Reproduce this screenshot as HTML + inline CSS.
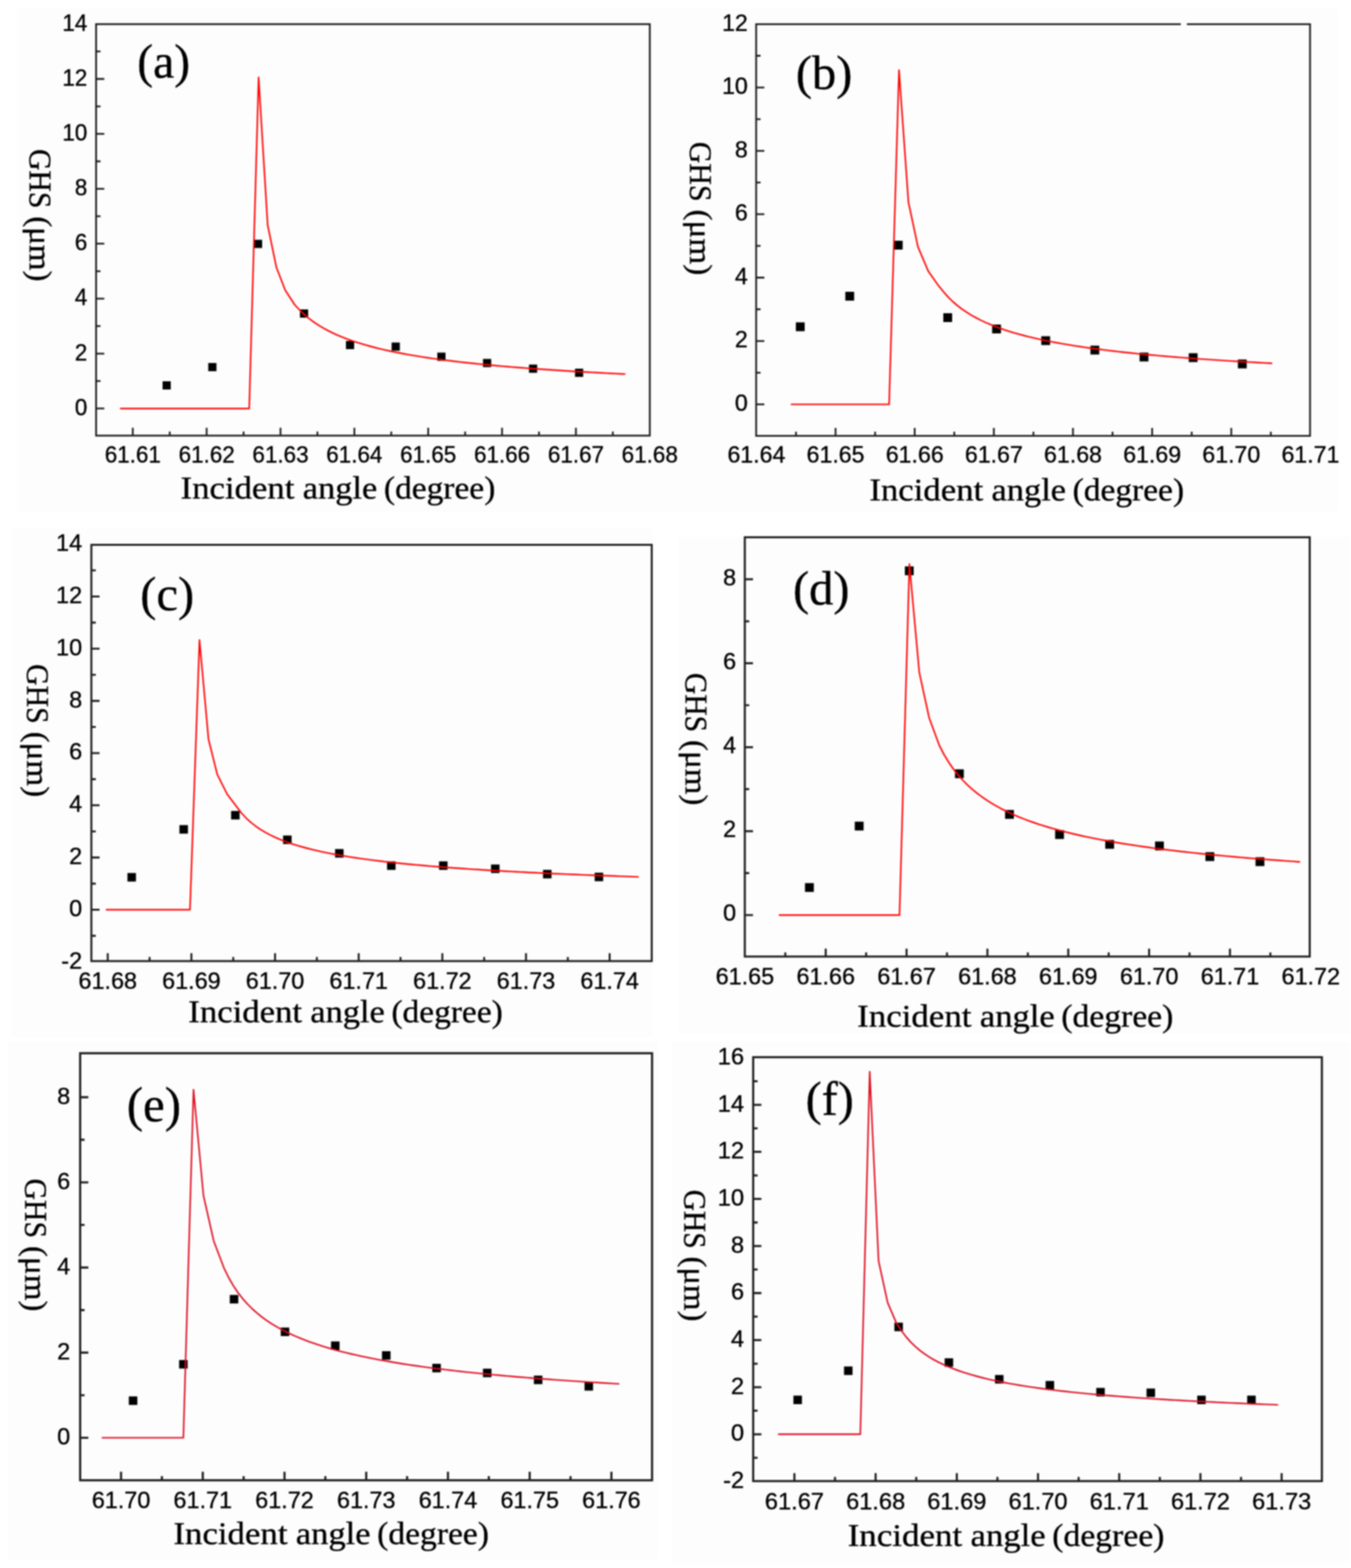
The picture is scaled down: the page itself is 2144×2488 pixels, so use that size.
<!DOCTYPE html>
<html><head><meta charset="utf-8"><title>GHS vs incident angle</title>
<style>
html,body{margin:0;padding:0;background:#ffffff;}
svg{display:block;filter:blur(1px);}
.t{font-family:"Liberation Sans",Arial,sans-serif;font-size:37.5px;fill:#000;stroke:#000;stroke-width:0.5px;}
.s{font-family:"Liberation Serif","Times New Roman",serif;fill:#000;stroke:#000;stroke-width:0.5px;}
</style></head><body>
<svg width="2144" height="2488" viewBox="0 0 2144 2488">
<rect width="2144" height="2488" fill="#ffffff"/>
<rect x="27" y="13" width="1050" height="798" fill="#fdfdfd"/><rect x="1077" y="13" width="1047" height="798" fill="#fdfdfd"/><rect x="18" y="838" width="1018" height="808" fill="#fdfdfd"/><rect x="1077" y="852" width="1067" height="788" fill="#fdfdfd"/><rect x="13" y="1652" width="1032" height="823" fill="#fdfdfd"/><rect x="1067" y="1653" width="1077" height="827" fill="#fdfdfd"/>
<g id="pa"><rect x="152.5" y="38.3" width="878.7" height="652.9" fill="none" stroke="#1c1c1c" stroke-width="2.8"/>
<path d="M152.5 648.2h13M152.5 561.04h13M152.5 473.88h13M152.5 386.72h13M152.5 299.56h13M152.5 212.4h13M152.5 125.24h13M152.5 604.62h7M152.5 517.46h7M152.5 430.3h7M152.5 343.14h7M152.5 255.98h7M152.5 168.82h7M152.5 81.66h7M210.75 691.2v-12.5M327.95 691.2v-12.5M445.15 691.2v-12.5M562.35 691.2v-12.5M679.55 691.2v-12.5M796.75 691.2v-12.5M913.95 691.2v-12.5M269.35 691.2v-6.5M386.55 691.2v-6.5M503.75 691.2v-6.5M620.95 691.2v-6.5M738.15 691.2v-6.5M855.35 691.2v-6.5M972.55 691.2v-6.5" stroke="#1e1e1e" stroke-width="2.8" fill="none"/>
<text class="t" transform="translate(210.75 734) scale(0.95 1)" text-anchor="middle" font-size="37.2">61.61</text>
<text class="t" transform="translate(327.95 734) scale(0.95 1)" text-anchor="middle" font-size="37.2">61.62</text>
<text class="t" transform="translate(445.15 734) scale(0.95 1)" text-anchor="middle" font-size="37.2">61.63</text>
<text class="t" transform="translate(562.35 734) scale(0.95 1)" text-anchor="middle" font-size="37.2">61.64</text>
<text class="t" transform="translate(679.55 734) scale(0.95 1)" text-anchor="middle" font-size="37.2">61.65</text>
<text class="t" transform="translate(796.75 734) scale(0.95 1)" text-anchor="middle" font-size="37.2">61.66</text>
<text class="t" transform="translate(913.95 734) scale(0.95 1)" text-anchor="middle" font-size="37.2">61.67</text>
<text class="t" transform="translate(1031.15 734) scale(0.95 1)" text-anchor="middle" font-size="37.2">61.68</text>
<text class="t" transform="translate(138.5 658.7) scale(0.95 1)" text-anchor="end" font-size="37.2">0</text>
<text class="t" transform="translate(138.5 571.54) scale(0.95 1)" text-anchor="end" font-size="37.2">2</text>
<text class="t" transform="translate(138.5 484.38) scale(0.95 1)" text-anchor="end" font-size="37.2">4</text>
<text class="t" transform="translate(138.5 397.22) scale(0.95 1)" text-anchor="end" font-size="37.2">6</text>
<text class="t" transform="translate(138.5 310.06) scale(0.95 1)" text-anchor="end" font-size="37.2">8</text>
<text class="t" transform="translate(138.5 222.9) scale(0.95 1)" text-anchor="end" font-size="37.2">10</text>
<text class="t" transform="translate(138.5 135.74) scale(0.95 1)" text-anchor="end" font-size="37.2">12</text>
<text class="t" transform="translate(138.5 48.58) scale(0.95 1)" text-anchor="end" font-size="37.2">14</text>
<path d="M258 605h13v13h-13zM330.5 576h13v13h-13zM403 380.5h13v13h-13zM476 491h13v13h-13zM549 541h13v13h-13zM621.5 543.5h13v13h-13zM694 559.5h13v13h-13zM766.5 569.5h13v13h-13zM839.5 578.5h13v13h-13zM912.5 585h13v13h-13z" fill="#000"/>
<polyline points="190.5,648.2 395.5,648.2 410.4,122.7 424.8,357.2 438.7,424.4 452.6,460.4 467.6,483.5 475.1,491.51 482.6,498.77 490.1,505.13 497.6,510.76 505.1,515.78 512.6,520.3 520.1,524.4 527.6,528.14 535.1,531.57 542.6,534.72 550.1,537.64 557.6,540.35 565.1,542.87 572.6,545.23 580.1,547.44 587.6,549.52 595.1,551.48 602.6,553.32 610.1,555.07 617.6,556.73 625.1,558.3 632.6,559.8 640.1,561.23 647.6,562.59 655.1,563.89 662.6,565.13 670.1,566.32 677.6,567.47 685.1,568.57 692.6,569.62 700.1,570.64 707.6,571.62 715.1,572.56 722.6,573.47 730.1,574.35 737.6,575.2 745.1,576.02 752.6,576.81 760.1,577.58 767.6,578.33 775.1,579.05 782.6,579.75 790.1,580.44 797.6,581.1 805.1,581.74 812.6,582.37 820.1,582.98 827.6,583.57 835.1,584.15 842.6,584.71 850.1,585.26 857.6,585.79 865.1,586.31 872.6,586.82 880.1,587.32 887.6,587.8 895.1,588.28 902.6,588.74 910.1,589.19 917.6,589.64 925.1,590.07 932.6,590.5 940.1,590.91 947.6,591.32 955.1,591.72 962.6,592.11 970.1,592.49 977.6,592.86 985.1,593.23 992.5,593.59" fill="none" stroke="#ff0000" stroke-width="2.4" stroke-linejoin="round"/>
<text class="s" x="217.78" y="123.14" font-size="75.5">(a)</text>
<text class="s" transform="translate(286.55 790.9) scale(1.1033 1)" font-size="50">Incident</text>
<text class="s" transform="translate(480.52 790.9) scale(1.0922 1)" font-size="50">angle</text>
<text class="s" transform="translate(609.19 790.9) scale(1.0627 1)" font-size="50">(degree)</text>
<text class="s" transform="translate(47 236.62) rotate(90) scale(0.9394 1)" font-size="50">GHS</text>
<text class="s" transform="translate(47 343.17) rotate(90) scale(1.0457 1)" font-size="50">(μm)</text></g>
<g id="pb"><path d="M1200 38.3H1872.5M1885 38.3H2079V691.6H1200V38.3" fill="none" stroke="#1c1c1c" stroke-width="2.8" stroke-linejoin="miter" stroke-linecap="square"/>
<path d="M1200 641.6h13M1200 541.04h13M1200 440.48h13M1200 339.92h13M1200 239.36h13M1200 138.8h13M1200 591.32h7M1200 490.76h7M1200 390.2h7M1200 289.64h7M1200 189.08h7M1200 88.52h7M1326 691.6v-12.5M1451.6 691.6v-12.5M1577.2 691.6v-12.5M1702.8 691.6v-12.5M1828.4 691.6v-12.5M1954 691.6v-12.5M1263.2 691.6v-6.5M1388.8 691.6v-6.5M1514.4 691.6v-6.5M1640 691.6v-6.5M1765.6 691.6v-6.5M1891.2 691.6v-6.5M2016.8 691.6v-6.5" stroke="#1e1e1e" stroke-width="2.8" fill="none"/>
<text class="t" transform="translate(1200.4 733.7) scale(0.98 1)" text-anchor="middle" font-size="37">61.64</text>
<text class="t" transform="translate(1326 733.7) scale(0.98 1)" text-anchor="middle" font-size="37">61.65</text>
<text class="t" transform="translate(1451.6 733.7) scale(0.98 1)" text-anchor="middle" font-size="37">61.66</text>
<text class="t" transform="translate(1577.2 733.7) scale(0.98 1)" text-anchor="middle" font-size="37">61.67</text>
<text class="t" transform="translate(1702.8 733.7) scale(0.98 1)" text-anchor="middle" font-size="37">61.68</text>
<text class="t" transform="translate(1828.4 733.7) scale(0.98 1)" text-anchor="middle" font-size="37">61.69</text>
<text class="t" transform="translate(1954 733.7) scale(0.98 1)" text-anchor="middle" font-size="37">61.70</text>
<text class="t" transform="translate(2079.6 733.7) scale(0.98 1)" text-anchor="middle" font-size="37">61.71</text>
<text class="t" transform="translate(1186.8 652.03) scale(0.98 1)" text-anchor="end" font-size="37">0</text>
<text class="t" transform="translate(1186.8 551.47) scale(0.98 1)" text-anchor="end" font-size="37">2</text>
<text class="t" transform="translate(1186.8 450.91) scale(0.98 1)" text-anchor="end" font-size="37">4</text>
<text class="t" transform="translate(1186.8 350.35) scale(0.98 1)" text-anchor="end" font-size="37">6</text>
<text class="t" transform="translate(1186.8 249.79) scale(0.98 1)" text-anchor="end" font-size="37">8</text>
<text class="t" transform="translate(1186.8 149.23) scale(0.98 1)" text-anchor="end" font-size="37">10</text>
<text class="t" transform="translate(1186.8 48.67) scale(0.98 1)" text-anchor="end" font-size="37">12</text>
<path d="M1263 511.5h14v14h-14zM1341.5 463h14v14h-14zM1418.5 382h14v14h-14zM1497 497h14v14h-14zM1574.5 515h14v14h-14zM1652.5 533.5h14v14h-14zM1730.5 548.5h14v14h-14zM1808.5 559.5h14v14h-14zM1886.5 560.5h14v14h-14zM1964.5 570.5h14v14h-14z" fill="#000"/>
<polyline points="1255,641.6 1411,641.6 1426.7,111.3 1441.7,321 1456.8,391.7 1473,430 1489.2,453.1 1496.7,462.33 1504.2,470.88 1511.7,478.26 1519.2,484.74 1526.7,490.47 1534.2,495.59 1541.7,500.21 1549.2,504.4 1556.7,508.22 1564.2,511.73 1571.7,514.96 1579.2,517.96 1586.7,520.75 1594.2,523.34 1601.7,525.77 1609.2,528.06 1616.7,530.2 1624.2,532.23 1631.7,534.14 1639.2,535.95 1646.7,537.67 1654.2,539.31 1661.7,540.87 1669.2,542.35 1676.7,543.77 1684.2,545.13 1691.7,546.43 1699.2,547.68 1706.7,548.87 1714.2,550.02 1721.7,551.13 1729.2,552.2 1736.7,553.23 1744.2,554.22 1751.7,555.18 1759.2,556.1 1766.7,557 1774.2,557.86 1781.7,558.7 1789.2,559.52 1796.7,560.31 1804.2,561.07 1811.7,561.82 1819.2,562.54 1826.7,563.24 1834.2,563.93 1841.7,564.59 1849.2,565.24 1856.7,565.87 1864.2,566.49 1871.7,567.09 1879.2,567.67 1886.7,568.24 1894.2,568.8 1901.7,569.34 1909.2,569.88 1916.7,570.4 1924.2,570.9 1931.7,571.4 1939.2,571.89 1946.7,572.36 1954.2,572.83 1961.7,573.28 1969.2,573.73 1976.7,574.17 1984.2,574.6 1991.7,575.02 1999.2,575.43 2006.7,575.84 2014.2,576.23 2019,576.48" fill="none" stroke="#ff0000" stroke-width="2.4" stroke-linejoin="round"/>
<text class="s" x="1262.92" y="141.23" font-size="77.0">(b)</text>
<text class="s" transform="translate(1379.65 794) scale(1.1031 1)" font-size="50">Incident</text>
<text class="s" transform="translate(1573.58 794) scale(1.0920 1)" font-size="50">angle</text>
<text class="s" transform="translate(1702.22 794) scale(1.0625 1)" font-size="50">(degree)</text>
<text class="s" transform="translate(1095 225.11) rotate(90) scale(0.9467 1)" font-size="50">GHS</text>
<text class="s" transform="translate(1095 332.48) rotate(90) scale(1.0538 1)" font-size="50">(μm)</text></g>
<g id="pc"><rect x="145" y="864.5" width="889.3" height="660.5" fill="none" stroke="#1c1c1c" stroke-width="3.1"/>
<path d="M145 1443.5h13M145 1360.66h13M145 1277.82h13M145 1194.98h13M145 1112.14h13M145 1029.3h13M145 946.46h13M145 1484.92h7M145 1402.08h7M145 1319.24h7M145 1236.4h7M145 1153.56h7M145 1070.72h7M145 987.88h7M145 905.04h7M171 1525v-12.5M303.75 1525v-12.5M436.5 1525v-12.5M569.25 1525v-12.5M702 1525v-12.5M834.75 1525v-12.5M967.5 1525v-12.5M237.38 1525v-6.5M370.13 1525v-6.5M502.87 1525v-6.5M635.63 1525v-6.5M768.38 1525v-6.5M901.12 1525v-6.5" stroke="#1e1e1e" stroke-width="3.1" fill="none"/>
<text class="t" transform="translate(171 1568.7) scale(0.99 1)" text-anchor="middle" font-size="37">61.68</text>
<text class="t" transform="translate(303.75 1568.7) scale(0.99 1)" text-anchor="middle" font-size="37">61.69</text>
<text class="t" transform="translate(436.5 1568.7) scale(0.99 1)" text-anchor="middle" font-size="37">61.70</text>
<text class="t" transform="translate(569.25 1568.7) scale(0.99 1)" text-anchor="middle" font-size="37">61.71</text>
<text class="t" transform="translate(702 1568.7) scale(0.99 1)" text-anchor="middle" font-size="37">61.72</text>
<text class="t" transform="translate(834.75 1568.7) scale(0.99 1)" text-anchor="middle" font-size="37">61.73</text>
<text class="t" transform="translate(967.5 1568.7) scale(0.99 1)" text-anchor="middle" font-size="37">61.74</text>
<text class="t" transform="translate(130.3 1536.77) scale(0.99 1)" text-anchor="end" font-size="37">-2</text>
<text class="t" transform="translate(130.3 1453.93) scale(0.99 1)" text-anchor="end" font-size="37">0</text>
<text class="t" transform="translate(130.3 1371.09) scale(0.99 1)" text-anchor="end" font-size="37">2</text>
<text class="t" transform="translate(130.3 1288.25) scale(0.99 1)" text-anchor="end" font-size="37">4</text>
<text class="t" transform="translate(130.3 1205.41) scale(0.99 1)" text-anchor="end" font-size="37">6</text>
<text class="t" transform="translate(130.3 1122.57) scale(0.99 1)" text-anchor="end" font-size="37">8</text>
<text class="t" transform="translate(130.3 1039.73) scale(0.99 1)" text-anchor="end" font-size="37">10</text>
<text class="t" transform="translate(130.3 956.89) scale(0.99 1)" text-anchor="end" font-size="37">12</text>
<text class="t" transform="translate(130.3 874.05) scale(0.99 1)" text-anchor="end" font-size="37">14</text>
<path d="M202.25 1385.25h13.5v13.5h-13.5zM284.75 1309.25h13.5v13.5h-13.5zM366.75 1286.75h13.5v13.5h-13.5zM449.25 1325.75h13.5v13.5h-13.5zM531.75 1347.25h13.5v13.5h-13.5zM614.25 1366.75h13.5v13.5h-13.5zM696.75 1366.75h13.5v13.5h-13.5zM779.25 1371.75h13.5v13.5h-13.5zM861.75 1380.25h13.5v13.5h-13.5zM943.75 1384.75h13.5v13.5h-13.5z" fill="#000"/>
<polyline points="168,1443.5 301.5,1443.5 316.6,1015.5 330.9,1173.1 344.8,1228.7 360.4,1260 376.1,1280.8 383.6,1290.53 391.1,1298.55 398.6,1305.33 406.1,1311.15 413.6,1316.23 421.1,1320.72 428.6,1324.72 436.1,1328.31 443.6,1331.57 451.1,1334.54 458.6,1337.26 466.1,1339.77 473.6,1342.1 481.1,1344.25 488.6,1346.27 496.1,1348.15 503.6,1349.92 511.1,1351.58 518.6,1353.15 526.1,1354.63 533.6,1356.03 541.1,1357.37 548.6,1358.64 556.1,1359.84 563.6,1361 571.1,1362.1 578.6,1363.15 586.1,1364.16 593.6,1365.13 601.1,1366.06 608.6,1366.96 616.1,1367.82 623.6,1368.65 631.1,1369.45 638.6,1370.22 646.1,1370.97 653.6,1371.69 661.1,1372.39 668.6,1373.06 676.1,1373.72 683.6,1374.36 691.1,1374.97 698.6,1375.57 706.1,1376.15 713.6,1376.72 721.1,1377.27 728.6,1377.8 736.1,1378.32 743.6,1378.83 751.1,1379.33 758.6,1379.81 766.1,1380.28 773.6,1380.74 781.1,1381.19 788.6,1381.63 796.1,1382.05 803.6,1382.47 811.1,1382.88 818.6,1383.28 826.1,1383.67 833.6,1384.05 841.1,1384.43 848.6,1384.8 856.1,1385.15 863.6,1385.51 871.1,1385.85 878.6,1386.19 886.1,1386.52 893.6,1386.85 901.1,1387.17 908.6,1387.48 916.1,1387.79 923.6,1388.09 931.1,1388.39 938.6,1388.68 946.1,1388.97 953.6,1389.25 961.1,1389.53 968.6,1389.8 976.1,1390.07 983.6,1390.33 991.1,1390.59 998.6,1390.85 1006.1,1391.1 1013.5,1391.34" fill="none" stroke="#ff0000" stroke-width="2.4" stroke-linejoin="round"/>
<text class="s" x="222.62" y="967.73" font-size="77.0">(c)</text>
<text class="s" transform="translate(298.85 1622) scale(1.1022 1)" font-size="50">Incident</text>
<text class="s" transform="translate(492.62 1622) scale(1.0911 1)" font-size="50">angle</text>
<text class="s" transform="translate(621.16 1622) scale(1.0616 1)" font-size="50">(degree)</text>
<text class="s" transform="translate(43.2 1053.81) rotate(90) scale(0.9439 1)" font-size="50">GHS</text>
<text class="s" transform="translate(43.2 1160.88) rotate(90) scale(1.0508 1)" font-size="50">(μm)</text></g>
<g id="pd"><rect x="1182" y="852.5" width="896.5" height="665.3" fill="none" stroke="#1c1c1c" stroke-width="3.2"/>
<path d="M1182 1452h13M1182 1318.8h13M1182 1185.6h13M1182 1052.4h13M1182 919.2h13M1182 1385.4h7M1182 1252.2h7M1182 1119h7M1182 985.8h7M1310.4 1517.8v-12.5M1438.7 1517.8v-12.5M1567 1517.8v-12.5M1695.3 1517.8v-12.5M1823.6 1517.8v-12.5M1951.9 1517.8v-12.5M1246.25 1517.8v-6.5M1374.55 1517.8v-6.5M1502.85 1517.8v-6.5M1631.15 1517.8v-6.5M1759.45 1517.8v-6.5M1887.75 1517.8v-6.5M2016.05 1517.8v-6.5" stroke="#1e1e1e" stroke-width="3.2" fill="none"/>
<text class="t" transform="translate(1182.1 1561.5) scale(0.99 1)" text-anchor="middle" font-size="38.5">61.65</text>
<text class="t" transform="translate(1310.4 1561.5) scale(0.99 1)" text-anchor="middle" font-size="38.5">61.66</text>
<text class="t" transform="translate(1438.7 1561.5) scale(0.99 1)" text-anchor="middle" font-size="38.5">61.67</text>
<text class="t" transform="translate(1567 1561.5) scale(0.99 1)" text-anchor="middle" font-size="38.5">61.68</text>
<text class="t" transform="translate(1695.3 1561.5) scale(0.99 1)" text-anchor="middle" font-size="38.5">61.69</text>
<text class="t" transform="translate(1823.6 1561.5) scale(0.99 1)" text-anchor="middle" font-size="38.5">61.70</text>
<text class="t" transform="translate(1951.9 1561.5) scale(0.99 1)" text-anchor="middle" font-size="38.5">61.71</text>
<text class="t" transform="translate(2080.2 1561.5) scale(0.99 1)" text-anchor="middle" font-size="38.5">61.72</text>
<text class="t" transform="translate(1168.2 1461.45) scale(0.99 1)" text-anchor="end" font-size="38.5">0</text>
<text class="t" transform="translate(1168.2 1328.25) scale(0.99 1)" text-anchor="end" font-size="38.5">2</text>
<text class="t" transform="translate(1168.2 1195.05) scale(0.99 1)" text-anchor="end" font-size="38.5">4</text>
<text class="t" transform="translate(1168.2 1061.85) scale(0.99 1)" text-anchor="end" font-size="38.5">6</text>
<text class="t" transform="translate(1168.2 928.65) scale(0.99 1)" text-anchor="end" font-size="38.5">8</text>
<path d="M1277.5 1401.2h14v14h-14zM1356.5 1303.7h14v14h-14zM1436 898.7h14v14h-14zM1515.5 1220.7h14v14h-14zM1595 1285.2h14v14h-14zM1674.5 1317.2h14v14h-14zM1754 1332.7h14v14h-14zM1833 1335.2h14v14h-14zM1913 1352.2h14v14h-14zM1992.5 1360.2h14v14h-14z" fill="#000"/>
<polyline points="1236,1452 1427.5,1452 1443.2,895 1458.9,1067 1474.5,1138.8 1490.7,1182.9 1498.2,1197.35 1505.7,1209.71 1513.2,1220.44 1520.7,1229.88 1528.2,1238.27 1535.7,1245.78 1543.2,1252.56 1550.7,1258.72 1558.2,1264.35 1565.7,1269.52 1573.2,1274.29 1580.7,1278.71 1588.2,1282.82 1595.7,1286.65 1603.2,1290.23 1610.7,1293.6 1618.2,1296.77 1625.7,1299.75 1633.2,1302.57 1640.7,1305.25 1648.2,1307.78 1655.7,1310.19 1663.2,1312.49 1670.7,1314.68 1678.2,1316.77 1685.7,1318.77 1693.2,1320.68 1700.7,1322.51 1708.2,1324.27 1715.7,1325.96 1723.2,1327.59 1730.7,1329.16 1738.2,1330.67 1745.7,1332.12 1753.2,1333.53 1760.7,1334.88 1768.2,1336.2 1775.7,1337.47 1783.2,1338.7 1790.7,1339.89 1798.2,1341.04 1805.7,1342.16 1813.2,1343.25 1820.7,1344.31 1828.2,1345.33 1835.7,1346.33 1843.2,1347.3 1850.7,1348.25 1858.2,1349.17 1865.7,1350.06 1873.2,1350.94 1880.7,1351.79 1888.2,1352.62 1895.7,1353.43 1903.2,1354.22 1910.7,1354.99 1918.2,1355.75 1925.7,1356.49 1933.2,1357.21 1940.7,1357.91 1948.2,1358.6 1955.7,1359.28 1963.2,1359.94 1970.7,1360.59 1978.2,1361.22 1985.7,1361.84 1993.2,1362.45 2000.7,1363.05 2008.2,1363.63 2015.7,1364.21 2023.2,1364.77 2030.7,1365.32 2038.2,1365.87 2045.7,1366.4 2053.2,1366.92 2060.7,1367.44 2063.3,1367.61" fill="none" stroke="#ff0000" stroke-width="2.4" stroke-linejoin="round"/>
<text class="s" x="1258.42" y="959.03" font-size="77.0">(d)</text>
<text class="s" transform="translate(1360.24 1629.4) scale(1.1082 1)" font-size="50">Incident</text>
<text class="s" transform="translate(1555.07 1629.4) scale(1.0970 1)" font-size="50">angle</text>
<text class="s" transform="translate(1684.31 1629.4) scale(1.0674 1)" font-size="50">(degree)</text>
<text class="s" transform="translate(1087.5 1067.72) rotate(90) scale(0.9403 1)" font-size="50">GHS</text>
<text class="s" transform="translate(1087.5 1174.37) rotate(90) scale(1.0467 1)" font-size="50">(μm)</text></g>
<g id="pe"><rect x="127.2" y="1671.2" width="907.6" height="677.6" fill="none" stroke="#1c1c1c" stroke-width="3.4"/>
<path d="M127.2 2281.4h13M127.2 2146.3h13M127.2 2011.2h13M127.2 1876.1h13M127.2 1741h13M127.2 2213.85h7M127.2 2078.75h7M127.2 1943.65h7M127.2 1808.55h7M192.1 2348.8v-13.5M321.8 2348.8v-13.5M451.5 2348.8v-13.5M581.2 2348.8v-13.5M710.9 2348.8v-13.5M840.6 2348.8v-13.5M970.3 2348.8v-13.5M256.95 2348.8v-6.5M386.65 2348.8v-6.5M516.35 2348.8v-6.5M646.05 2348.8v-6.5M775.75 2348.8v-6.5M905.45 2348.8v-6.5" stroke="#1e1e1e" stroke-width="3.4" fill="none"/>
<text class="t" transform="translate(192.1 2392.8) scale(0.99 1)" text-anchor="middle" font-size="38.5">61.70</text>
<text class="t" transform="translate(321.8 2392.8) scale(0.99 1)" text-anchor="middle" font-size="38.5">61.71</text>
<text class="t" transform="translate(451.5 2392.8) scale(0.99 1)" text-anchor="middle" font-size="38.5">61.72</text>
<text class="t" transform="translate(581.2 2392.8) scale(0.99 1)" text-anchor="middle" font-size="38.5">61.73</text>
<text class="t" transform="translate(710.9 2392.8) scale(0.99 1)" text-anchor="middle" font-size="38.5">61.74</text>
<text class="t" transform="translate(840.6 2392.8) scale(0.99 1)" text-anchor="middle" font-size="38.5">61.75</text>
<text class="t" transform="translate(970.3 2392.8) scale(0.99 1)" text-anchor="middle" font-size="38.5">61.76</text>
<text class="t" transform="translate(111.4 2292.35) scale(0.99 1)" text-anchor="end" font-size="38.5">0</text>
<text class="t" transform="translate(111.4 2157.25) scale(0.99 1)" text-anchor="end" font-size="38.5">2</text>
<text class="t" transform="translate(111.4 2022.15) scale(0.99 1)" text-anchor="end" font-size="38.5">4</text>
<text class="t" transform="translate(111.4 1887.05) scale(0.99 1)" text-anchor="end" font-size="38.5">6</text>
<text class="t" transform="translate(111.4 1751.95) scale(0.99 1)" text-anchor="end" font-size="38.5">8</text>
<path d="M204.45 2215.65h13.5v13.5h-13.5zM284.25 2157.95h13.5v13.5h-13.5zM364.65 2054.85h13.5v13.5h-13.5zM445.55 2106.45h13.5v13.5h-13.5zM525.35 2128.55h13.5v13.5h-13.5zM606.25 2144.05h13.5v13.5h-13.5zM686.05 2164.05h13.5v13.5h-13.5zM766.45 2171.85h13.5v13.5h-13.5zM847.25 2182.65h13.5v13.5h-13.5zM927.65 2192.95h13.5v13.5h-13.5z" fill="#000"/>
<polyline points="161.5,2281.4 291,2281.4 307.1,1729 322.9,1897 339.1,1968.8 355.3,2011.7 362.8,2027.05 370.3,2040.1 377.8,2051.21 385.3,2060.83 392.8,2069.26 400.3,2076.73 407.8,2083.42 415.3,2089.45 422.8,2094.93 430.3,2099.93 437.8,2104.52 445.3,2108.76 452.8,2112.69 460.3,2116.35 467.8,2119.76 475.3,2122.95 482.8,2125.95 490.3,2128.77 497.8,2131.44 505.3,2133.96 512.8,2136.35 520.3,2138.61 527.8,2140.77 535.3,2142.83 542.8,2144.79 550.3,2146.67 557.8,2148.46 565.3,2150.18 572.8,2151.83 580.3,2153.42 587.8,2154.94 595.3,2156.41 602.8,2157.82 610.3,2159.19 617.8,2160.5 625.3,2161.78 632.8,2163.01 640.3,2164.2 647.8,2165.35 655.3,2166.46 662.8,2167.55 670.3,2168.6 677.8,2169.62 685.3,2170.61 692.8,2171.57 700.3,2172.51 707.8,2173.42 715.3,2174.3 722.8,2175.17 730.3,2176.01 737.8,2176.83 745.3,2177.63 752.8,2178.41 760.3,2179.18 767.8,2179.92 775.3,2180.65 782.8,2181.36 790.3,2182.05 797.8,2182.73 805.3,2183.4 812.8,2184.05 820.3,2184.69 827.8,2185.31 835.3,2185.92 842.8,2186.52 850.3,2187.11 857.8,2187.68 865.3,2188.25 872.8,2188.8 880.3,2189.34 887.8,2189.87 895.3,2190.4 902.8,2190.91 910.3,2191.41 917.8,2191.91 925.3,2192.4 932.8,2192.87 940.3,2193.34 947.8,2193.81 955.3,2194.26 962.8,2194.71 970.3,2195.15 977.8,2195.58 982.8,2195.86" fill="none" stroke="#e00a1e" stroke-width="2.4" stroke-linejoin="round"/>
<text class="s" x="201.3" y="1778.52" font-size="77.5">(e)</text>
<text class="s" transform="translate(275.14 2450) scale(1.1060 1)" font-size="50">Incident</text>
<text class="s" transform="translate(469.58 2450) scale(1.0948 1)" font-size="50">angle</text>
<text class="s" transform="translate(598.56 2450) scale(1.0653 1)" font-size="50">(degree)</text>
<text class="s" transform="translate(40.1 1870.01) rotate(90) scale(0.9439 1)" font-size="50">GHS</text>
<text class="s" transform="translate(40.1 1977.08) rotate(90) scale(1.0508 1)" font-size="50">(μm)</text></g>
<g id="pf"><rect x="1195.3" y="1677.5" width="902.5" height="672.6" fill="none" stroke="#1c1c1c" stroke-width="3.3"/>
<path d="M1195.3 2275.8h13M1195.3 2201.12h13M1195.3 2126.44h13M1195.3 2051.76h13M1195.3 1977.08h13M1195.3 1902.4h13M1195.3 1827.72h13M1195.3 1753.04h13M1195.3 2313.14h7M1195.3 2238.46h7M1195.3 2163.78h7M1195.3 2089.1h7M1195.3 2014.42h7M1195.3 1939.74h7M1195.3 1865.06h7M1195.3 1790.38h7M1195.3 1715.7h7M1260.7 2350.1v-12.5M1389.57 2350.1v-12.5M1518.44 2350.1v-12.5M1647.31 2350.1v-12.5M1776.18 2350.1v-12.5M1905.05 2350.1v-12.5M2033.92 2350.1v-12.5M1325.13 2350.1v-6.5M1454.01 2350.1v-6.5M1582.87 2350.1v-6.5M1711.74 2350.1v-6.5M1840.62 2350.1v-6.5M1969.48 2350.1v-6.5" stroke="#1e1e1e" stroke-width="3.3" fill="none"/>
<text class="t" transform="translate(1260.7 2394.5) scale(1.0 1)" text-anchor="middle" font-size="37.5">61.67</text>
<text class="t" transform="translate(1389.57 2394.5) scale(1.0 1)" text-anchor="middle" font-size="37.5">61.68</text>
<text class="t" transform="translate(1518.44 2394.5) scale(1.0 1)" text-anchor="middle" font-size="37.5">61.69</text>
<text class="t" transform="translate(1647.31 2394.5) scale(1.0 1)" text-anchor="middle" font-size="37.5">61.70</text>
<text class="t" transform="translate(1776.18 2394.5) scale(1.0 1)" text-anchor="middle" font-size="37.5">61.71</text>
<text class="t" transform="translate(1905.05 2394.5) scale(1.0 1)" text-anchor="middle" font-size="37.5">61.72</text>
<text class="t" transform="translate(2033.92 2394.5) scale(1.0 1)" text-anchor="middle" font-size="37.5">61.73</text>
<text class="t" transform="translate(1180.8 2361.08) scale(1.0 1)" text-anchor="end" font-size="37.5">-2</text>
<text class="t" transform="translate(1180.8 2286.4) scale(1.0 1)" text-anchor="end" font-size="37.5">0</text>
<text class="t" transform="translate(1180.8 2211.72) scale(1.0 1)" text-anchor="end" font-size="37.5">2</text>
<text class="t" transform="translate(1180.8 2137.04) scale(1.0 1)" text-anchor="end" font-size="37.5">4</text>
<text class="t" transform="translate(1180.8 2062.36) scale(1.0 1)" text-anchor="end" font-size="37.5">6</text>
<text class="t" transform="translate(1180.8 1987.68) scale(1.0 1)" text-anchor="end" font-size="37.5">8</text>
<text class="t" transform="translate(1180.8 1913) scale(1.0 1)" text-anchor="end" font-size="37.5">10</text>
<text class="t" transform="translate(1180.8 1838.32) scale(1.0 1)" text-anchor="end" font-size="37.5">12</text>
<text class="t" transform="translate(1180.8 1763.64) scale(1.0 1)" text-anchor="end" font-size="37.5">14</text>
<text class="t" transform="translate(1180.8 1688.96) scale(1.0 1)" text-anchor="end" font-size="37.5">16</text>
<path d="M1259.15 2214.55h13.5v13.5h-13.5zM1339.45 2168.25h13.5v13.5h-13.5zM1419.35 2098.65h13.5v13.5h-13.5zM1499.15 2155.35h13.5v13.5h-13.5zM1579.05 2181.65h13.5v13.5h-13.5zM1659.35 2191.35h13.5v13.5h-13.5zM1739.75 2202.25h13.5v13.5h-13.5zM1819.55 2203.25h13.5v13.5h-13.5zM1899.95 2214.55h13.5v13.5h-13.5zM1979.25 2214.55h13.5v13.5h-13.5z" fill="#000"/>
<polyline points="1234.7,2275.8 1365.3,2275.8 1380.2,1700.4 1394.3,2001 1408.7,2067 1422.6,2099.5 1430.1,2110.74 1437.6,2120.89 1445.1,2129.4 1452.6,2136.68 1460.1,2142.99 1467.6,2148.53 1475.1,2153.45 1482.6,2157.85 1490.1,2161.82 1497.6,2165.42 1505.1,2168.7 1512.6,2171.72 1520.1,2174.5 1527.6,2177.07 1535.1,2179.47 1542.6,2181.7 1550.1,2183.78 1557.6,2185.74 1565.1,2187.58 1572.6,2189.31 1580.1,2190.95 1587.6,2192.5 1595.1,2193.97 1602.6,2195.36 1610.1,2196.69 1617.6,2197.96 1625.1,2199.17 1632.6,2200.33 1640.1,2201.43 1647.6,2202.49 1655.1,2203.51 1662.6,2204.49 1670.1,2205.43 1677.6,2206.33 1685.1,2207.2 1692.6,2208.04 1700.1,2208.85 1707.6,2209.64 1715.1,2210.39 1722.6,2211.13 1730.1,2211.83 1737.6,2212.52 1745.1,2213.19 1752.6,2213.83 1760.1,2214.46 1767.6,2215.06 1775.1,2215.66 1782.6,2216.23 1790.1,2216.79 1797.6,2217.33 1805.1,2217.86 1812.6,2218.38 1820.1,2218.88 1827.6,2219.37 1835.1,2219.85 1842.6,2220.31 1850.1,2220.77 1857.6,2221.21 1865.1,2221.64 1872.6,2222.07 1880.1,2222.48 1887.6,2222.89 1895.1,2223.28 1902.6,2223.67 1910.1,2224.05 1917.6,2224.42 1925.1,2224.78 1932.6,2225.14 1940.1,2225.49 1947.6,2225.83 1955.1,2226.17 1962.6,2226.5 1970.1,2226.82 1977.6,2227.13 1985.1,2227.45 1992.6,2227.75 2000.1,2228.05 2007.6,2228.34 2015.1,2228.63 2022.6,2228.92 2028.2,2229.12" fill="none" stroke="#e00a1e" stroke-width="2.4" stroke-linejoin="round"/>
<text class="s" x="1278.44" y="1769.13" font-size="76.5">(f)</text>
<text class="s" transform="translate(1345.13 2453.3) scale(1.1104 1)" font-size="50">Incident</text>
<text class="s" transform="translate(1540.36 2453.3) scale(1.0992 1)" font-size="50">angle</text>
<text class="s" transform="translate(1669.86 2453.3) scale(1.0695 1)" font-size="50">(degree)</text>
<text class="s" transform="translate(1086.4 1887.63) rotate(90) scale(0.9353 1)" font-size="50">GHS</text>
<text class="s" transform="translate(1086.4 1993.71) rotate(90) scale(1.0411 1)" font-size="50">(μm)</text></g>
</svg>
</body></html>
